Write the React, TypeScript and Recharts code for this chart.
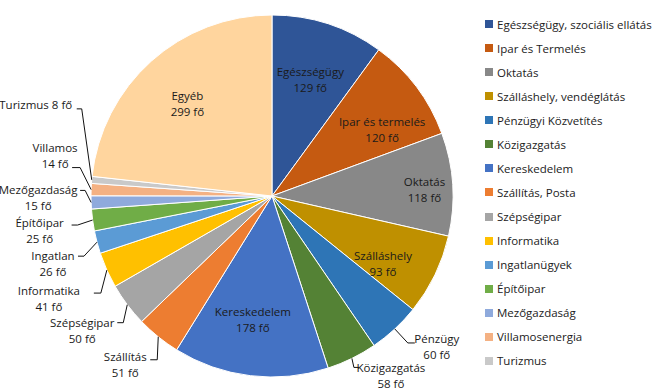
import * as React from 'react'
import { PieChart, Pie, Cell, Legend } from 'recharts'

// slice labels (clockwise from 12 o'clock)
const SLICE_NAMES = [
  'Egészségügy', 'Ipar és termelés', 'Oktatás', 'Szálláshely', 'Pénzügy', 'Közigazgatás',
  'Kereskedelem', 'Szállítás', 'Szépségipar', 'Informatika', 'Ingatlan', 'Építőipar',
  'Mezőgazdaság', 'Villamos', 'Turizmus', 'Egyéb',
]
const SLICE_VALUES = [129, 120, 118, 93, 60, 58, 178, 51, 50, 41, 26, 25, 15, 14, 8, 299]

// legend entries (Egyéb is not listed)
const LEGEND_NAMES = [
  'Egészségügy, szociális ellátás', 'Ipar és Termelés', 'Oktatás', 'Szálláshely, vendéglátás',
  'Pénzügyi Közvetítés', 'Közigazgatás', 'Kereskedelem', 'Szállítás, Posta', 'Szépségipar',
  'Informatika', 'Ingatlanügyek', 'Építőipar', 'Mezőgazdaság', 'Villamosenergia', 'Turizmus',
]

const COLORS = [
  '#2F5597', '#C55A11', '#888888', '#BF9000', '#2E75B6', '#548235', '#4472C4', '#ED7D31',
  '#A5A5A5', '#FFC000', '#5B9BD5', '#70AD47', '#8FAADC', '#F4B183', '#C9C9C9', '#FFD59E',
]

const FONT = '"Open Sans", sans-serif'
const RADIAN = Math.PI / 180

// label placement relative to a point on the slice's mid angle (rf * radius)
// leader: [elbow dx, elbow dy, hook end dx] relative to that same point
type Layout = { rf: number; dx: number; dy: number; leader?: [number, number, number] }
const LABEL_LAYOUT: Layout[] = [
  { rf: 0.7, dx: -1, dy: 4 },
  { rf: 0.7, dx: 9, dy: 10 },
  { rf: 0.7, dx: 26, dy: 2 },
  { rf: 0.7, dx: -3, dy: 12 },
  { rf: 1, dx: 42, dy: 18, leader: [13, 14, 20] },
  { rf: 1, dx: 39, dy: 17, leader: [2, 9, 7] },
  { rf: 0.7, dx: -4, dy: -2 },
  { rf: 1, dx: -33, dy: 28, leader: [-1, 23, -8] },
  { rf: 1, dx: -45, dy: 26, leader: [-4, 18, -10] },
  { rf: 1, dx: -58, dy: 28, leader: [-6, 23, -13] },
  { rf: 1, dx: -44, dy: 21, leader: [-13, 14, -19] },
  { rf: 1, dx: -53, dy: 10, leader: [-15, 5, -21] },
  { rf: 1, dx: -53, dy: -5, leader: [-6, -12, -11] },
  { rf: 1, dx: -36, dy: -34, leader: [-11, -22, -19] },
  { rf: 1, dx: -56, dy: -75, leader: [-10, -71, -15] },
  { rf: 0.7, dx: 0, dy: 2 },
]

const data = SLICE_NAMES.map((name, i) => ({ name, value: SLICE_VALUES[i] }))

function renderLabel(props: any) {
  const { cx, cy, midAngle, outerRadius, index } = props
  const layout = LABEL_LAYOUT[index]
  const r = outerRadius * layout.rf
  const bx = cx + r * Math.cos(-midAngle * RADIAN)
  const by = cy + r * Math.sin(-midAngle * RADIAN)
  const tx = bx + layout.dx
  const ty = by + layout.dy
  const name = SLICE_NAMES[index]
  const value = SLICE_VALUES[index]
  const lines = index === 14 ? [`${name} ${value} fő`] : [name, `${value} fő`]
  const start = lines.length === 1 ? 0 : -8
  let leader = null
  if (layout.leader) {
    const [ex, ey, hx] = layout.leader
    const pts = `${bx},${by} ${bx + ex},${by + ey} ${bx + hx},${by + ey}`
    leader = <polyline points={pts} fill="none" stroke="#111" strokeWidth={1} />
  }
  return (
    <g key={`lbl-${index}`}>
      {leader}
      <text
        x={tx}
        y={ty}
        textAnchor="middle"
        fill="#1a1a1a"
        style={{ fontFamily: FONT, fontSize: 11.5 }}
      >
        {lines.map((line, i) => (
          <tspan key={i} x={tx} y={ty + start + i * 16} dominantBaseline="central">
            {line}
          </tspan>
        ))}
      </text>
    </g>
  )
}

function LegendContent() {
  return (
    <div style={{ fontFamily: FONT, fontSize: 11.5, color: '#222' }}>
      {LEGEND_NAMES.map((name, i) => (
        <div key={name} style={{ height: 24.07, display: 'flex', alignItems: 'center', whiteSpace: 'nowrap' }}>
          <span style={{ display: 'inline-block', width: 8, height: 8, background: COLORS[i], marginRight: 4 }} />
          <span>{name}</span>
        </div>
      ))}
    </div>
  )
}

export default function App() {
  return (
    <div style={{ width: 655, height: 391, background: '#fff' }}>
      <style>{'body{margin:0}'}</style>
      <PieChart width={655} height={391} margin={{ top: 0, right: 0, bottom: 0, left: 0 }}>
        <Pie
          data={data}
          dataKey="value"
          nameKey="name"
          cx={272}
          cy={196}
          outerRadius={181}
          startAngle={90}
          endAngle={-270}
          stroke="#fff"
          strokeWidth={1}
          label={renderLabel}
          labelLine={false}
          isAnimationActive={false}
        >
          {data.map((_, i) => (
            <Cell key={`cell-${i}`} fill={COLORS[i]} />
          ))}
        </Pie>
        <Legend
          layout="vertical"
          align="right"
          verticalAlign="top"
          content={<LegendContent />}
          wrapperStyle={{ left: 485, top: 12, width: 170 }}
        />
      </PieChart>
    </div>
  )
}
